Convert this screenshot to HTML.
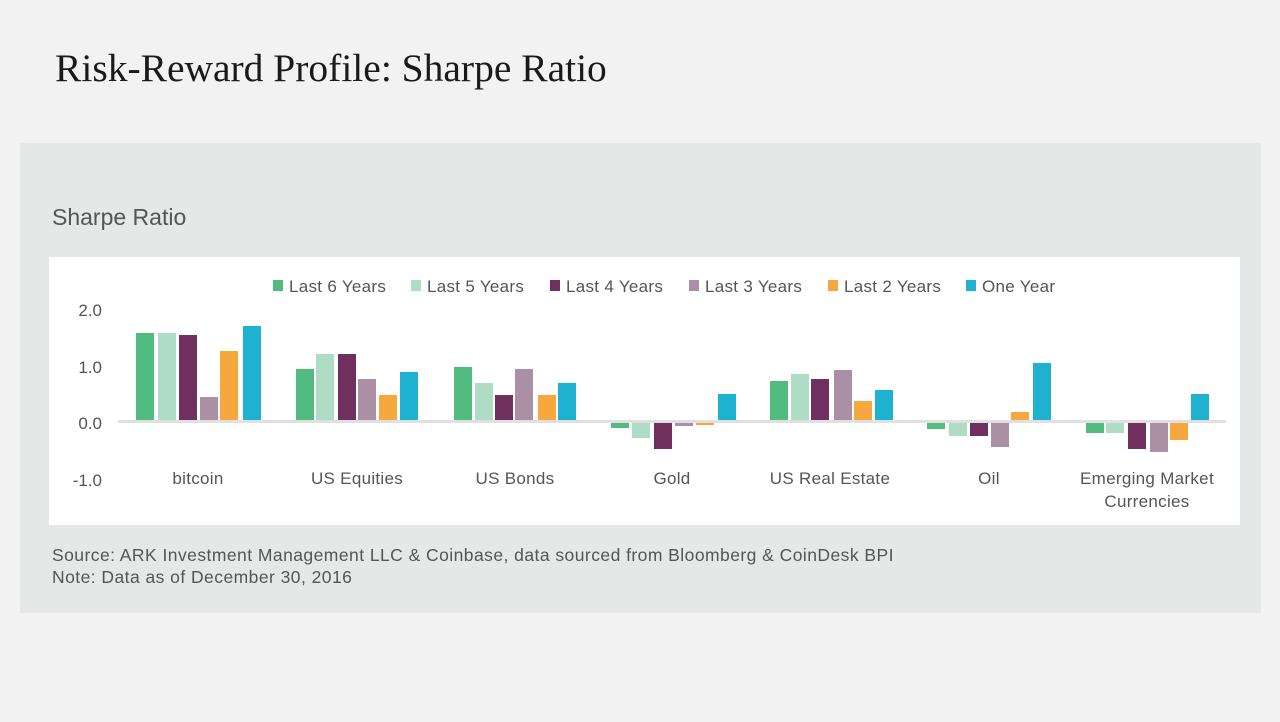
<!DOCTYPE html><html><head><style>
body{margin:0;width:1280px;height:722px;background:#f2f2f2;position:relative;overflow:hidden;font-family:"Liberation Sans",sans-serif}
.a{position:absolute}
</style></head><body>
<div class="a" style="left:55px;top:45px;font-family:'Liberation Serif',serif;font-size:39.5px;color:#1a1a1a">Risk-Reward Profile: Sharpe Ratio</div>
<div class="a" style="left:20px;top:143px;width:1241px;height:470px;background:#e6e7e7"></div>
<div class="a" style="left:52px;top:204px;font-size:23px;color:#555">Sharpe Ratio</div>
<div class="a" style="left:49px;top:257px;width:1191px;height:268px;background:#fff"></div>
<div class="a" style="left:52px;top:544px;font-size:17.5px;letter-spacing:0.45px;color:#555;line-height:22px">Source: ARK Investment Management LLC &amp; Coinbase, data sourced from Bloomberg &amp; CoinDesk BPI<br>Note: Data as of December 30, 2016</div>
<svg class="a" style="left:0;top:0" width="1280" height="722" font-family="Liberation Sans, sans-serif">
<g font-size="17" fill="#555">
<g letter-spacing="0.3">
<rect x="273" y="280" width="10" height="11" fill="#52bb80"/><text x="289" y="292">Last 6 Years</text>
<rect x="411" y="280" width="10" height="11" fill="#afdcc4"/><text x="427" y="292">Last 5 Years</text>
<rect x="550" y="280" width="10" height="11" fill="#6f2f5f"/><text x="566" y="292">Last 4 Years</text>
<rect x="689" y="280" width="10" height="11" fill="#ab8fa4"/><text x="705" y="292">Last 3 Years</text>
<rect x="828" y="280" width="10" height="11" fill="#f6a73e"/><text x="844" y="292">Last 2 Years</text>
<rect x="966" y="280" width="10" height="11" fill="#1eb1d0"/><text x="982" y="292">One Year</text>
</g>
<text x="102" y="316" text-anchor="end">2.0</text>
<text x="102" y="373" text-anchor="end">1.0</text>
<text x="102" y="429" text-anchor="end">0.0</text>
<text x="102" y="486" text-anchor="end">-1.0</text>
<g text-anchor="middle" letter-spacing="0.3">
<text x="198" y="484">bitcoin</text><text x="357" y="484">US Equities</text><text x="515" y="484">US Bonds</text>
<text x="672" y="484">Gold</text><text x="830" y="484">US Real Estate</text><text x="989" y="484">Oil</text>
<text x="1147" y="484">Emerging Market</text><text x="1147" y="507">Currencies</text></g>
</g>
<rect x="118" y="420" width="1108" height="3" fill="#e0e0e0"/>
<g id="b"></g>
</svg>
<script>
var C=["#52bb80","#afdcc4","#6f2f5f","#ab8fa4","#f6a73e","#1eb1d0"];
var D=[[[136,158,179,200,220,243],[333,333,335,397,351,326],1],
[[296,316,338,358,379,400],[369,354,354,379,395,372],1],
[[454,475,495,515,538,558],[367,383,395,369,395,383],1],
[[611,632,654,675,696,718],[428,438,449,426,424,394],0],
[[770,791,811,834,854,875],[381,374,379,370,401,390],1],
[[927,949,970,991,1011,1033],[429,436,436,447,412,363],0],
[[1086,1106,1128,1150,1170,1191],[433,433,449,452,440,394],0]];
var s="";D.forEach(function(g){for(var i=0;i<6;i++){var x=g[0][i],y=g[1][i];
if(y<421){s+='<rect x="'+x+'" y="'+y+'" width="18" height="'+(420-y)+'" fill="'+C[i]+'"/>';}
else{s+='<rect x="'+x+'" y="423" width="18" height="'+Math.max(2,y-423)+'" fill="'+C[i]+'"/>';}}});
document.getElementById("b").innerHTML=s;
</script>
</body></html>
